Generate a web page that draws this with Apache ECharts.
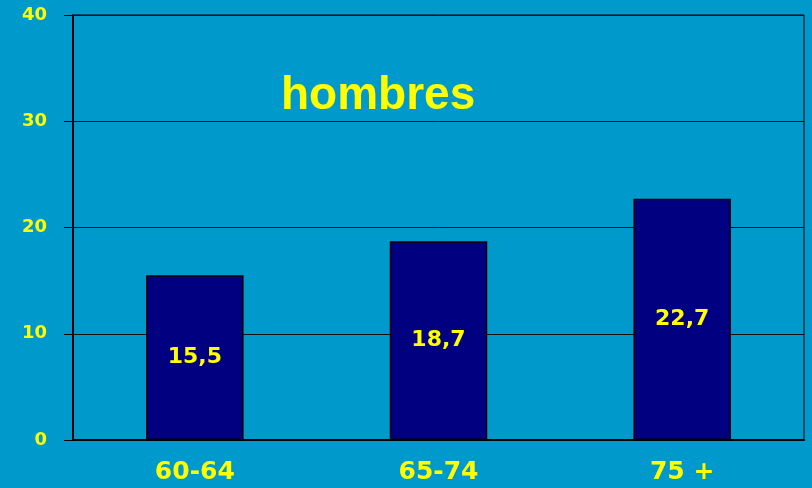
<!DOCTYPE html>
<html>
<head>
<meta charset="utf-8">
<script src="https://cdn.jsdelivr.net/npm/echarts@6/dist/echarts.min.js"></script>
<style>
  html, body { margin: 0; padding: 0; background: #0099cc; }
  #chart { width: 812px; height: 488px; }
</style>
</head>
<body>
<div id="chart"></div>
<script>
// datos
var categorias = ['60-64', '65-74', '75 +'];
var valores = [15.5, 18.7, 22.7];
var titulo = 'hombres';

var myChart = echarts.init(document.getElementById('chart'));

var option = {
    backgroundColor: '#0099cc',
    animation: false,
    title: {
        text: titulo,
        left: 276,
        top: 68,
        textStyle: {
            color: '#ffff00',
            fontFamily: 'Liberation Sans',
            fontWeight: 'bold',
            fontSize: 46
        }
    },
    grid: {
        left: 73,
        right: 8,
        top: 15,
        bottom: 48,
        show: true,
        borderColor: '#000',
        borderWidth: 1
    },
    xAxis: {
        type: 'category',
        data: categorias,
        axisLine: { lineStyle: { color: '#000', width: 2 } },
        axisTick: { length: 7, lineStyle: { color: '#000', width: 1.5 } },
        axisLabel: {
            color: '#ffff00',
            fontFamily: 'DejaVu Sans',
            fontWeight: 'bold',
            fontSize: 25,
            margin: 20
        }
    },
    yAxis: {
        type: 'value',
        min: 0,
        max: 40,
        interval: 10,
        axisLine: { show: true, lineStyle: { color: '#000', width: 2 } },
        axisTick: { show: true, length: 9, lineStyle: { color: '#000', width: 1 } },
        axisLabel: {
            color: '#ffff00',
            fontFamily: 'DejaVu Sans',
            fontWeight: 'bold',
            fontSize: 18,
            margin: 26
        },
        splitLine: { lineStyle: { color: '#111', width: 1 } }
    },
    series: [
        {
            type: 'bar',
            data: valores,
            barWidth: '40%',
            itemStyle: {
                color: '#000080',
                borderColor: '#000',
                borderWidth: 1.5
            },
            label: {
                show: true,
                position: 'inside',
                color: '#ffff00',
                fontFamily: 'DejaVu Sans',
                fontWeight: 'bold',
                fontSize: 22,
                formatter: function (p) {
                    return String(p.value).replace('.', ',');
                }
            }
        }
    ]
};

myChart.setOption(option);
</script>
</body>
</html>
